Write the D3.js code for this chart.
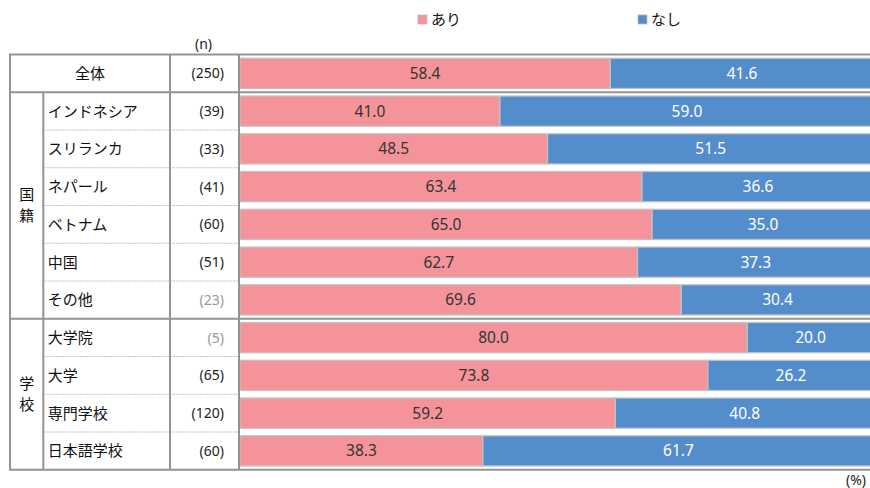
<!DOCTYPE html>
<html><head><meta charset="utf-8">
<script src="https://cdn.jsdelivr.net/npm/d3@7"></script>
<style>
html,body{margin:0;padding:0;background:#fff;}
svg{display:block;}
</style></head>
<body>
<svg id="chart" width="870" height="488"></svg>
<script>
const categories = ["全体","インドネシア","スリランカ","ネパール","ベトナム","中国","その他","大学院","大学","専門学校","日本語学校"];
const groupOf    = ["",   "国籍","国籍","国籍","国籍","国籍","国籍","学校","学校","学校","学校"];
const nValues    = [250, 39, 33, 41, 60, 51, 23, 5, 65, 120, 60];
const ariValues  = [58.4, 41.0, 48.5, 63.4, 65.0, 62.7, 69.6, 80.0, 73.8, 59.2, 38.3];
const nashiValues= [41.6, 59.0, 51.5, 36.6, 35.0, 37.3, 30.4, 20.0, 26.2, 40.8, 61.7];
const seriesNames = ["あり","なし"];
const seriesColors = ["#F5939B","#548DCC"];
const labelColors = ["#333333","#ffffff"];

const svg = d3.select("#chart");
const jp = "'Noto Sans CJK JP','Noto Sans',sans-serif";
const num = "'Noto Sans','DejaVu Sans',sans-serif";

const tableTop = 54.5, tableBottom = 469.75;
const colX = {left:10, name:43.3, n:170, bar:239};
const lineColor = "#939393";

const rows = d3.scaleBand().domain(categories).range([tableTop, tableBottom]).paddingInner(0).paddingOuter(0);
const barBand = d3.scaleBand().domain(categories).range([tableTop, tableBottom]).paddingInner(0.2).paddingOuter(0.1);
const x = d3.scaleLinear().domain([0,100]).range([240, 874]);

const data = categories.map((c,i)=>({cat:c, ari:ariValues[i], nashi:nashiValues[i]}));
const stack = d3.stack().keys(["ari","nashi"])(data);

// bars
const gBars = svg.append("g");
stack.forEach((layer, k)=>{
  gBars.selectAll(null).data(layer).enter().append("rect")
    .attr("x", d=>x(d[0]))
    .attr("y", d=>barBand(d.data.cat))
    .attr("width", d=>x(d[1])-x(d[0]))
    .attr("height", barBand.bandwidth())
    .attr("fill", seriesColors[k])
    .attr("stroke", "#c2c2c2")
    .attr("stroke-width", 1.3);
});
stack.forEach((layer, k)=>{
  gBars.selectAll(null).data(layer).enter().append("text")
    .attr("x", d=>(x(d[0])+x(d[1]))/2)
    .attr("y", d=>barBand(d.data.cat)+barBand.bandwidth()/2)
    .attr("dy","0.36em")
    .attr("text-anchor","middle")
    .attr("font-family", num)
    .attr("font-size","15.5px")
    .attr("fill", labelColors[k])
    .text(d=>(d[1]-d[0]).toFixed(1));
});

// table lines
const gT = svg.append("g").attr("stroke", lineColor).attr("stroke-width", 2).attr("fill","none");
categories.forEach((c,i)=>{
  if(i>0 && i<categories.length-1 && groupOf[i]!=="" && groupOf[i]===groupOf[i+1]){
    const y = rows(c)+rows.bandwidth();
    svg.append("line").attr("x1", colX.name+1).attr("x2", colX.bar-1)
      .attr("y1", y).attr("y2", y)
      .attr("stroke", "#bdbdbd").attr("stroke-width", 1).attr("stroke-dasharray","2,1");
  }
});
const hLines = [tableTop];
categories.forEach((c,i)=>{
  if(i===categories.length-1 || groupOf[i]!==groupOf[i+1]) hLines.push(rows(c)+rows.bandwidth());
});
hLines.forEach(y=>{
  gT.append("line").attr("x1", colX.left-1).attr("x2", 870).attr("y1", y).attr("y2", y);
});
gT.append("line").attr("x1",colX.left).attr("x2",colX.left).attr("y1",tableTop).attr("y2",tableBottom);
gT.append("line").attr("x1",colX.name).attr("x2",colX.name).attr("y1",rows(categories[1])).attr("y2",tableBottom);
gT.append("line").attr("x1",colX.n).attr("x2",colX.n).attr("y1",tableTop).attr("y2",tableBottom);
gT.append("line").attr("x1",colX.bar).attr("x2",colX.bar).attr("y1",tableTop).attr("y2",tableBottom);

// row labels
const gL = svg.append("g");
categories.forEach((c,i)=>{
  const yc = rows(c)+rows.bandwidth()/2;
  if(groupOf[i]===""){
    gL.append("text").attr("x",(colX.left+colX.n)/2).attr("y",yc).attr("dy","0.36em")
      .attr("text-anchor","middle").attr("font-family",jp).attr("font-size","15px").attr("fill","#111").text(c);
  } else {
    gL.append("text").attr("x",colX.name+4.5).attr("y",yc).attr("dy","0.36em")
      .attr("font-family",jp).attr("font-size","15px").attr("fill","#111").text(c);
  }
  gL.append("text").attr("x",224).attr("y",yc).attr("dy","0.36em")
    .attr("text-anchor","end").attr("font-family",num).attr("font-size","14px")
    .attr("fill", nValues[i]<30 ? "#9a9a9a" : "#222").text("(" + nValues[i] + ")");
});

// group labels (vertical)
const groupNames = Array.from(new Set(groupOf.filter(g=>g!=="")));
groupNames.forEach(g=>{
  const idx = groupOf.map((v,i)=>v===g?i:-1).filter(i=>i>=0);
  const y0 = rows(categories[idx[0]]);
  const y1 = rows(categories[idx[idx.length-1]])+rows.bandwidth();
  const yc = (y0+y1)/2;
  const chars = Array.from(g);
  const lh = 21;
  chars.forEach((ch,j)=>{
    gL.append("text").attr("x",(colX.left+colX.name)/2).attr("y", yc + (j-(chars.length-1)/2)*lh)
      .attr("dy","0.36em").attr("text-anchor","middle").attr("font-family",jp).attr("font-size","15px")
      .attr("fill","#111").text(ch);
  });
});

// (n) header
svg.append("text").attr("x",(colX.n+colX.bar)/2-1).attr("y",44).attr("dy","0.36em")
  .attr("text-anchor","middle").attr("font-family",num).attr("font-size","14px").attr("fill","#222").text("(n)");

// (%) footer
svg.append("text").attr("x",866).attr("y",480).attr("dy","0.36em")
  .attr("text-anchor","end").attr("font-family",num).attr("font-size","14px").attr("fill","#222").text("(%)");

// legend
const legendX = [418, 638];
seriesNames.forEach((s,k)=>{
  const g = svg.append("g").attr("transform",`translate(${legendX[k]},15)`);
  g.append("rect").attr("width",9).attr("height",9).attr("fill",seriesColors[k]).attr("stroke","#bbb").attr("stroke-width",0.8);
  g.append("text").attr("x",13).attr("y",4.5).attr("dy","0.36em").attr("font-family",jp)
    .attr("font-size","15px").attr("fill","#111").text(s);
});
</script>
</body></html>
